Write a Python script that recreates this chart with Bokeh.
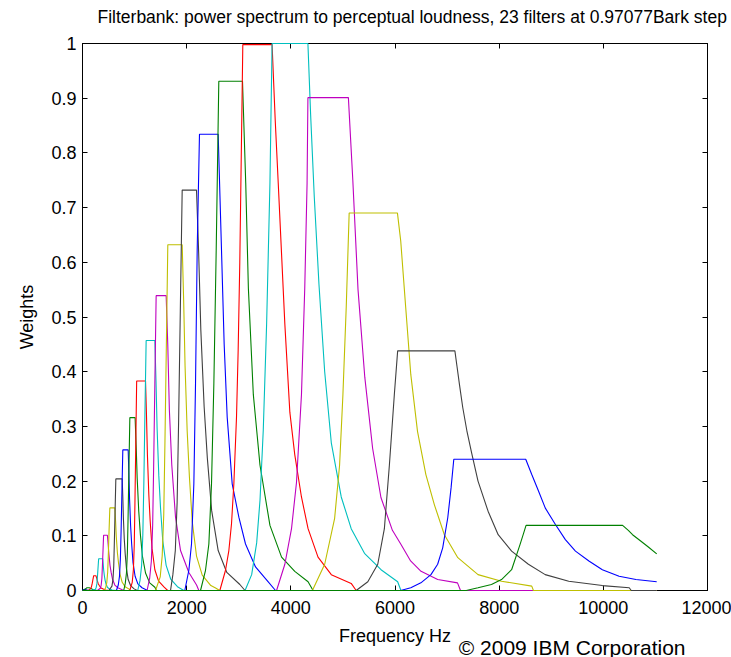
from bokeh.plotting import figure
from bokeh.models import Range1d, LinearAxis, FixedTicker, Title
from bokeh.embed import file_html
from bokeh.resources import INLINE

# ---------------- data ----------------
TITLE = "Filterbank: power spectrum to perceptual loudness, 23 filters at 0.97077Bark step"
X_LABEL = "Frequency Hz"
Y_LABEL = "Weights"
NOTE = "\u00a9 2009 IBM Corporation"

X_TICKS = [0, 2000, 4000, 6000, 8000, 10000, 12000]
Y_TICKS = [0, 0.1, 0.2, 0.3, 0.4, 0.5, 0.6, 0.7, 0.8, 0.9, 1]
Y_TICK_LABELS = ["0", "0.1", "0.2", "0.3", "0.4", "0.5", "0.6", "0.7", "0.8", "0.9", "1"]

F01_HZ = [0, 43, 86, 129, 200, 11025]
F01_W = [0.001, 0.002, 0.001, 0.0005, 0, 0]
F02_HZ = [0, 43, 86, 129, 172, 215, 300, 11025]
F02_W = [0, 0.002, 0.005, 0.005, 0.003, 0.001, 0, 0]
F03_HZ = [0, 73, 131, 153, 170, 183, 198, 215, 258, 271, 284, 304, 323, 349, 388, 440, 518, 11025]
F03_W = [0, 0, 0.001, 0.003, 0.006, 0.011, 0.019, 0.027, 0.027, 0.023, 0.018, 0.012, 0.009, 0.005, 0.003, 0.001, 0, 0]
F04_HZ = [0, 159, 248, 264, 277, 286, 298, 310, 388, 397, 406, 420, 433, 451, 478, 514, 568, 661, 11025]
F04_W = [0, 0, 0.002, 0.006, 0.013, 0.024, 0.041, 0.058, 0.058, 0.049, 0.038, 0.027, 0.019, 0.012, 0.006, 0.003, 0.001, 0, 0]
F05_HZ = [0, 288, 343, 359, 372, 381, 393, 405, 478, 492, 507, 528, 550, 578, 621, 678, 764, 802, 11025]
F05_W = [0, 0, 0.004, 0.010, 0.022, 0.042, 0.071, 0.101, 0.101, 0.085, 0.066, 0.046, 0.033, 0.020, 0.010, 0.005, 0.0015, 0, 0]
F06_HZ = [0, 418, 447, 467, 483, 495, 509, 525, 621, 635, 649, 670, 692, 720, 762, 818, 903, 917, 11025]
F06_W = [0, 0, 0.006, 0.015, 0.033, 0.063, 0.106, 0.151, 0.151, 0.127, 0.098, 0.069, 0.050, 0.030, 0.015, 0.007, 0.002, 0, 0]
F07_HZ = [0, 508, 565, 585, 600, 611, 625, 640, 762, 774, 785, 802, 820, 843, 877, 923, 992, 1050, 11025]
F07_W = [0, 0, 0.008, 0.020, 0.045, 0.086, 0.143, 0.204, 0.204, 0.171, 0.133, 0.094, 0.067, 0.041, 0.020, 0.009, 0.003, 0, 0]
F08_HZ = [0, 651, 687, 710, 727, 741, 757, 774, 877, 890, 904, 924, 944, 970, 1010, 1063, 1143, 1250, 11025]
F08_W = [0, 0, 0.010, 0.026, 0.057, 0.108, 0.180, 0.257, 0.257, 0.216, 0.167, 0.118, 0.085, 0.051, 0.026, 0.012, 0.005, 0, 0]
F09_HZ = [0, 792, 821, 844, 862, 875, 891, 909, 1010, 1030, 1050, 1080, 1110, 1150, 1210, 1290, 1390, 1419, 11025]
F09_W = [0, 0, 0.013, 0.032, 0.070, 0.133, 0.221, 0.316, 0.316, 0.265, 0.205, 0.145, 0.104, 0.063, 0.032, 0.014, 0.006, 0, 0]
F10_HZ = [0, 907, 955, 977, 994, 1007, 1023, 1040, 1210, 1228, 1246, 1273, 1300, 1335, 1389, 1461, 1568, 1636, 11025]
F10_W = [0, 0, 0.015, 0.038, 0.084, 0.161, 0.268, 0.383, 0.383, 0.322, 0.249, 0.176, 0.126, 0.077, 0.038, 0.017, 0.006, 0, 0]
F11_HZ = [0, 1060, 1104, 1135, 1158, 1177, 1198, 1222, 1389, 1411, 1432, 1465, 1498, 1541, 1606, 1693, 1823, 1946, 11025]
F11_W = [0, 0, 0.018, 0.046, 0.101, 0.192, 0.320, 0.457, 0.457, 0.384, 0.297, 0.210, 0.151, 0.091, 0.046, 0.021, 0.007, 0, 0]
F12_HZ = [0, 1240, 1289, 1322, 1347, 1366, 1389, 1414, 1606, 1637, 1668, 1714, 1786, 1882, 2042, 2190, 2234, 11025]
F12_W = [0, 0, 0.022, 0.054, 0.119, 0.226, 0.377, 0.539, 0.539, 0.450, 0.330, 0.230, 0.134, 0.073, 0.033, 0.010, 0, 0]
F13_HZ = [0, 1402, 1492, 1530, 1560, 1582, 1609, 1638, 1914, 1942, 1969, 2010, 2052, 2107, 2189, 2299, 2464, 2547, 2635, 11025]
F13_W = [0, 0, 0.025, 0.063, 0.139, 0.265, 0.442, 0.632, 0.632, 0.531, 0.411, 0.291, 0.209, 0.126, 0.063, 0.028, 0.009, 0.005, 0, 0]
F14_HZ = [0, 1690, 1735, 1782, 1817, 1845, 1878, 1914, 2189, 2231, 2272, 2335, 2397, 2480, 2605, 2771, 3021, 3120, 11025]
F14_W = [0, 0, 0.029, 0.073, 0.161, 0.307, 0.512, 0.732, 0.732, 0.615, 0.476, 0.337, 0.242, 0.146, 0.073, 0.033, 0.011, 0, 0]
F15_HZ = [0, 1964, 2042, 2093, 2138, 2170, 2202, 2246, 2605, 2669, 2720, 2778, 2874, 3002, 3130, 3322, 3546, 3706, 11025]
F15_W = [0, 0, 0.037, 0.085, 0.195, 0.378, 0.622, 0.834, 0.834, 0.622, 0.450, 0.317, 0.195, 0.134, 0.085, 0.043, 0.018, 0, 0]
F16_HZ = [0, 2266, 2362, 2426, 2477, 2522, 2567, 2617, 3072, 3134, 3185, 3280, 3408, 3599, 3822, 4076, 4331, 4427, 11025]
F16_W = [0, 0, 0.037, 0.085, 0.195, 0.378, 0.622, 0.931, 0.931, 0.745, 0.552, 0.358, 0.229, 0.119, 0.061, 0.035, 0.016, 0, 0]
F17_HZ = [0, 2637, 2746, 2810, 2861, 2906, 2957, 2989, 3020, 3078, 3640, 3700, 3758, 3885, 3981, 4076, 4204, 4331, 4522, 4777, 5159, 5255, 11025]
F17_W = [0, 0, 0.037, 0.073, 0.122, 0.195, 0.317, 0.440, 0.600, 0.998, 0.998, 0.860, 0.745, 0.487, 0.326, 0.248, 0.171, 0.113, 0.061, 0.029, 0.013, 0, 0]
F18_HZ = [0, 3121, 3248, 3344, 3408, 3471, 3535, 3599, 3640, 4328, 4380, 4450, 4540, 4650, 4777, 4968, 5159, 5414, 5732, 6051, 6114, 11025]
F18_W = [0, 0, 0.029, 0.087, 0.165, 0.294, 0.487, 0.745, 1.0, 1.0, 0.870, 0.720, 0.560, 0.400, 0.270, 0.171, 0.113, 0.068, 0.038, 0.016, 0, 0]
F19_HZ = [0, 3726, 3885, 4013, 4108, 4204, 4267, 4312, 4328, 5105, 5190, 5290, 5420, 5570, 5730, 5950, 6110, 6300, 6500, 6820, 7200, 7258, 11025]
F19_W = [0, 0, 0.048, 0.113, 0.197, 0.358, 0.552, 0.745, 0.901, 0.901, 0.750, 0.550, 0.390, 0.260, 0.170, 0.110, 0.085, 0.054, 0.035, 0.020, 0.014, 0, 0]
F20_HZ = [0, 4414, 4650, 4841, 4936, 5000, 5064, 5120, 6047, 6110, 6206, 6303, 6432, 6593, 6755, 6948, 7206, 7594, 8045, 8626, 8658, 11025]
F20_W = [0, 0, 0.048, 0.132, 0.229, 0.358, 0.519, 0.690, 0.690, 0.639, 0.517, 0.395, 0.291, 0.212, 0.157, 0.102, 0.060, 0.029, 0.017, 0.008, 0, 0]
F21_HZ = [0, 5255, 5478, 5669, 5796, 5892, 5987, 6051, 7150, 7190, 7240, 7300, 7380, 7470, 7594, 7787, 7981, 8239, 8561, 8884, 9336, 9981, 10497, 10536, 11025]
F21_W = [0, 0, 0.016, 0.048, 0.113, 0.229, 0.358, 0.438, 0.438, 0.410, 0.375, 0.335, 0.292, 0.252, 0.200, 0.145, 0.102, 0.072, 0.048, 0.029, 0.017, 0.009, 0.005, 0, 0]
F22_HZ = [0, 6110, 6303, 6497, 6690, 6819, 6916, 7013, 7077, 7129, 8510, 8626, 8755, 8884, 9077, 9271, 9465, 9723, 9981, 10303, 10626, 11025]
F22_W = [0, 0, 0.005, 0.014, 0.029, 0.048, 0.078, 0.133, 0.188, 0.240, 0.240, 0.212, 0.182, 0.151, 0.121, 0.093, 0.072, 0.054, 0.038, 0.026, 0.020, 0.016]
F23_HZ = [0, 7368, 7594, 7852, 8045, 8239, 8400, 8470, 8516, 10370, 10480, 10561, 10723, 10870, 11025]
F23_W = [0, 0, 0.005, 0.011, 0.020, 0.038, 0.084, 0.105, 0.119, 0.119, 0.110, 0.102, 0.090, 0.079, 0.067]

# MATLAB (pre-2014) line colour order: b g r c m y k
COLOR_ORDER = ["#0000ff", "#008000", "#ff0000", "#00bfbf", "#bf00bf", "#bfbf00", "#404040"]

FILTERS = [
    (F01_HZ, F01_W), (F02_HZ, F02_W), (F03_HZ, F03_W), (F04_HZ, F04_W),
    (F05_HZ, F05_W), (F06_HZ, F06_W), (F07_HZ, F07_W), (F08_HZ, F08_W),
    (F09_HZ, F09_W), (F10_HZ, F10_W), (F11_HZ, F11_W), (F12_HZ, F12_W),
    (F13_HZ, F13_W), (F14_HZ, F14_W), (F15_HZ, F15_W), (F16_HZ, F16_W),
    (F17_HZ, F17_W), (F18_HZ, F18_W), (F19_HZ, F19_W), (F20_HZ, F20_W),
    (F21_HZ, F21_W), (F22_HZ, F22_W), (F23_HZ, F23_W),
]

FONT = "Liberation Sans"

# ---------------- figure ----------------
p = figure(width=731, height=657, output_backend="svg", toolbar_location=None,
           x_range=Range1d(0, 12000), y_range=Range1d(0, 1),
           min_border_left=82, min_border_right=24, min_border_top=43, min_border_bottom=67)
p.background_fill_color = "white"
p.border_fill_color = "white"
p.outline_line_color = "black"
p.xgrid.visible = False
p.ygrid.visible = False

p.title.text = TITLE
p.title.text_font = FONT
p.title.text_font_size = "17.5px"
p.title.text_font_style = "normal"
p.title.text_color = "black"
p.title.align = "left"
p.title.offset = 15
p.title.standoff = 0
p.title.vertical_align = "top"

for i, (hz, w) in enumerate(FILTERS):
    p.line(hz, w, line_color=COLOR_ORDER[i % len(COLOR_ORDER)], line_width=1.1, level="overlay")

def style_axis(ax, show_labels=True):
    ax.major_tick_in = 5
    ax.major_tick_out = 0
    ax.minor_tick_line_color = None
    ax.axis_line_color = "black"
    ax.axis_line_width = 1
    ax.major_tick_line_color = "black"
    if show_labels:
        ax.major_label_text_font = FONT
        ax.major_label_text_font_size = "18px"
        ax.major_label_text_color = "black"
        ax.axis_label_text_font = FONT
        ax.axis_label_text_font_size = "18px"
        ax.axis_label_text_font_style = "normal"
        ax.axis_label_text_color = "black"
    else:
        ax.major_label_text_font_size = "0px"
        ax.major_label_text_color = None
        ax.major_label_standoff = 0

xax = p.xaxis[0]
xax.ticker = FixedTicker(ticks=X_TICKS)
xax.axis_label = X_LABEL
style_axis(xax)
xax.major_label_standoff = 10
xax.axis_label_standoff = 9

yax = p.yaxis[0]
yax.ticker = FixedTicker(ticks=Y_TICKS)
yax.major_label_overrides = {t: s for t, s in zip(Y_TICKS, Y_TICK_LABELS)}
yax.axis_label = Y_LABEL
style_axis(yax)
yax.major_label_standoff = 6
yax.axis_label_standoff = 11

top = LinearAxis(ticker=FixedTicker(ticks=X_TICKS))
style_axis(top, show_labels=False)
p.add_layout(top, "above")
# empty spacer between the top axis and the title
spacer = Title(text=" ", text_font_size="1px", standoff=12)
p.add_layout(spacer, "above")

right = LinearAxis(ticker=FixedTicker(ticks=Y_TICKS))
style_axis(right, show_labels=False)
p.add_layout(right, "right")

note = Title(text=NOTE, text_font=FONT, text_font_size="21px", text_font_style="normal",
             text_color="black", align="right", offset=22, standoff=-26, vertical_align="top")
p.add_layout(note, "below")

open("out.html", "w").write(file_html(p, INLINE))
